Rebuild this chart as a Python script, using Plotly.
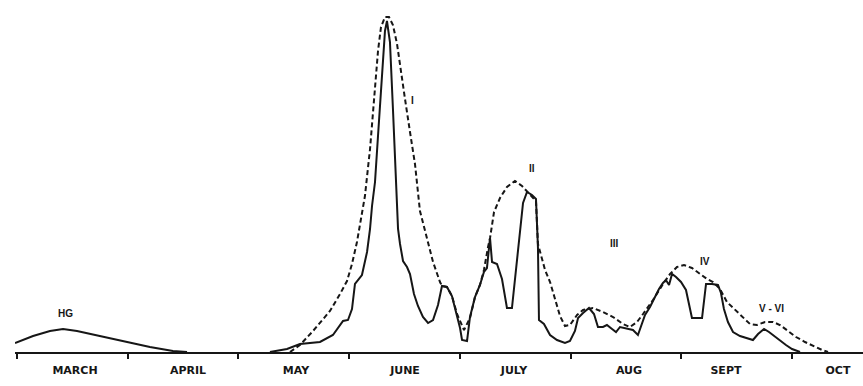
import plotly.graph_objects as go

# x positions in months since 1 March (0 = start of March, 1 = start of April, ...)
# y values: relative abundance (arbitrary units)

solid_x = [2.285, 2.439, 2.556, 2.737, 2.854, 2.945, 2.990, 3.026, 3.053, 3.116,
           3.162, 3.189, 3.207, 3.234, 3.261, 3.297, 3.324, 3.342, 3.369, 3.396,
           3.424, 3.442, 3.460, 3.487, 3.523, 3.550, 3.586, 3.622, 3.667, 3.713,
           3.758, 3.803, 3.839, 3.884, 3.929, 3.975, 4.002, 4.020, 4.065, 4.092,
           4.137, 4.182, 4.218, 4.245, 4.273, 4.291, 4.336, 4.381, 4.426, 4.471,
           4.498, 4.544, 4.571, 4.607, 4.652, 4.688, 4.706, 4.715, 4.760, 4.815,
           4.878, 4.950, 4.995, 5.040, 5.068, 5.113, 5.167, 5.212, 5.248, 5.293,
           5.329, 5.375, 5.411, 5.447, 5.510, 5.564, 5.609, 5.637, 5.673, 5.718,
           5.763, 5.799, 5.835, 5.862, 5.890, 5.917, 5.953, 5.998, 6.043, 6.070,
           6.097, 6.188, 6.206, 6.224, 6.278, 6.332, 6.359, 6.386, 6.422, 6.468,
           6.531, 6.603, 6.648, 6.694, 6.748, 6.793, 6.838, 6.892, 6.946, 7.001,
           7.073]
solid_y = [0, 3, 8, 10, 17, 31, 32, 43, 68, 77,
           100, 123, 146, 170, 216, 276, 321, 331, 310, 243,
           176, 123, 108, 91, 85, 78, 58, 46, 35, 29,
           32, 47, 66, 65, 56, 37, 24, 12, 11, 35,
           55, 67, 80, 84, 114, 90, 88, 73, 44, 44,
           72, 117, 149, 160, 157, 153, 104, 32, 28, 17,
           12, 9, 11, 21, 34, 39, 44, 38, 25, 25,
           27, 23, 20, 25, 23, 22, 17, 25, 37, 45,
           55, 63, 69, 72, 67, 78, 75, 70, 62, 48,
           34, 34, 52, 68, 68, 67, 59, 43, 30, 20,
           16, 14, 12, 18, 23, 20, 16, 12, 7, 3,
           0]

dashed_x = [2.466, 2.556, 2.674, 2.755, 2.827, 2.918, 2.981, 3.026, 3.071, 3.107,
            3.143, 3.189, 3.234, 3.261, 3.288, 3.324, 3.360, 3.396, 3.433, 3.460,
            3.505, 3.550, 3.595, 3.640, 3.704, 3.758, 3.821, 3.839, 3.884, 3.929,
            3.975, 4.038, 4.092, 4.137, 4.182, 4.218, 4.255, 4.273, 4.309, 4.363,
            4.426, 4.498, 4.562, 4.634, 4.688, 4.706, 4.770, 4.815, 4.860, 4.905,
            4.950, 4.995, 5.059, 5.113, 5.203, 5.293, 5.384, 5.474, 5.537, 5.601,
            5.655, 5.745, 5.835, 5.899, 5.962, 6.025, 6.097, 6.170, 6.233, 6.287,
            6.350, 6.413, 6.486, 6.549, 6.621, 6.684, 6.757, 6.829, 6.892, 6.965,
            7.037, 7.118, 7.190, 7.272, 7.326]
dashed_y = [0, 7, 21, 31, 41, 58, 71, 88, 110, 133,
            156, 203, 260, 301, 325, 335, 335, 327, 308, 286,
            253, 220, 188, 141, 113, 90, 70, 66, 65, 56,
            38, 22, 34, 55, 67, 82, 105, 114, 140, 154,
            165, 171, 166, 157, 151, 108, 82, 70, 52, 36,
            26, 27, 37, 42, 44, 40, 35, 28, 25, 30,
            38, 52, 68, 78, 85, 87, 84, 78, 73, 70,
            63, 50, 42, 35, 28, 27, 30, 30, 27, 21,
            15, 10, 6, 2, 0]

hg_x = [-0.018, 0.145, 0.298, 0.416, 0.542, 0.750, 0.994, 1.201, 1.409, 1.536]
hg_y = [9, 16, 21, 23, 21, 16, 10, 5, 1, 0]

month_ticks = [0, 1, 2, 3, 4, 5, 6, 7]
month_label_pos = [0.524, 1.545, 2.520, 3.505, 4.489, 5.528, 6.404, 7.416]
month_labels = ["MARCH", "APRIL", "MAY", "JUNE", "JULY", "AUG", "SEPT", "OCT"]

peak_labels = ["HG", "I", "II", "III", "IV", "V - VI"]
peak_label_x = [0.434, 3.577, 4.652, 5.401, 6.214, 6.816]
peak_label_y = [39, 252, 184, 109, 91, 44]

INK = "#161616"
XRANGE = [-0.018, 7.642]

fig = go.Figure()
fig.add_trace(go.Scatter(x=hg_x, y=hg_y, mode="lines",
                         line=dict(color=INK, width=2), showlegend=False))
fig.add_trace(go.Scatter(x=dashed_x, y=dashed_y, mode="lines",
                         line=dict(color=INK, width=2, dash="5px,3px"), showlegend=False))
fig.add_trace(go.Scatter(x=solid_x, y=solid_y, mode="lines",
                         line=dict(color=INK, width=2), showlegend=False))
# invisible trace to activate the label axis
fig.add_trace(go.Scatter(x=month_label_pos, y=[0] * len(month_label_pos), xaxis="x2",
                         mode="markers", marker=dict(opacity=0), showlegend=False,
                         hoverinfo="skip"))

for t, x, y in zip(peak_labels, peak_label_x, peak_label_y):
    fig.add_annotation(x=x, y=y, text="<b>" + t + "</b>", showarrow=False,
                       font=dict(family="Liberation Sans", size=10, color=INK))

fig.update_layout(
    width=863, height=386,
    margin=dict(l=15, r=0, t=0, b=34),
    paper_bgcolor="white", plot_bgcolor="white",
    xaxis=dict(range=XRANGE, tickvals=month_ticks, showticklabels=False,
               ticks="outside", ticklen=5, tickwidth=1.5, tickcolor=INK,
               showline=True, linecolor=INK, linewidth=2, showgrid=False,
               zeroline=False),
    xaxis2=dict(range=XRANGE, overlaying="x", anchor="y", side="bottom",
                tickvals=month_label_pos, ticktext=["<b>" + m + "</b>" for m in month_labels],
                ticks="", showline=False, showgrid=False, zeroline=False,
                ticklabelstandoff=10,
                tickfont=dict(family="DejaVu Sans", size=11, color=INK)),
    yaxis=dict(range=[0, 352], visible=False, showgrid=False, zeroline=False),
)

fig.write_html("out.html", config={"displayModeBar": False},
               post_script="document.body.style.margin='0';document.body.style.overflow='hidden';")
